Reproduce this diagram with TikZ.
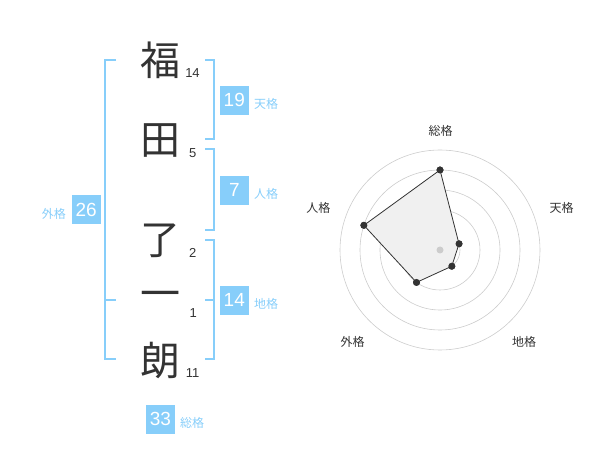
\documentclass[tikz,border=0pt]{standalone}
\usepackage{fontspec}
\setmainfont{Liberation Sans}
\newfontfamily\jp{Noto Sans CJK JP}
\definecolor{sky}{HTML}{87CEFA}
\definecolor{ink}{HTML}{333333}
\definecolor{ringc}{HTML}{CCCCCC}
\definecolor{polyfill}{HTML}{F0F0F0}
\begin{document}
\begin{tikzpicture}[x=1pt,y=-1pt,
  kanji/.style={font=\jp\fontsize{40}{40}\selectfont, text=ink, inner sep=0pt},
  strokes/.style={font=\fontsize{13}{13}\selectfont, text=ink, inner sep=0pt},
  valbox/.style={fill=sky, text=white, minimum width=29pt, minimum height=29pt, inner sep=0pt, font=\fontsize{19}{19}\selectfont},
  kaku/.style={font=\jp\fontsize{12}{12}\selectfont, text=sky, inner sep=0pt},
  bracket/.style={draw=sky, line width=2pt},
  ring/.style={draw=ringc, line width=0.6pt},
  dot/.style={circle, fill=ink, minimum size=7pt, inner sep=0pt},
  axislabel/.style={font=\jp\fontsize{12}{12}\selectfont, text=ink, inner sep=0pt}]
\useasboundingbox (0,0) rectangle (600,470);
% name characters
\node[kanji] (c1) at (160,60) {福};
\node[kanji] (c2) at (160,141) {田};
\node[kanji] (c3) at (160,241) {了};
\node[kanji] (c4) at (160,300) {一};
\node[kanji] (c5) at (160,361) {朗};
\node[strokes] (n1) at (192.5,72.7) {14};
\node[strokes] (n2) at (192.7,152.7) {5};
\node[strokes] (n3) at (192.7,252.7) {2};
\node[strokes] (n4) at (193.3,312.7) {1};
\node[strokes] (n5) at (192.5,372.7) {11};
% brackets
\draw[bracket] (205,60) -- (214,60) -- (214,139) -- (205,139);
\draw[bracket] (205,149) -- (214,149) -- (214,230) -- (205,230);
\draw[bracket] (205,240) -- (214,240) -- (214,359) -- (205,359);
\draw[bracket] (205,300) -- (214,300);
\draw[bracket] (116,60) -- (105,60) -- (105,359) -- (116,359);
\draw[bracket] (105,300) -- (116,300);
% values
\node[valbox] (ten) at (234.3,100.3) {19};
\node[kaku, anchor=west] (tenl) at (254,104) {天格};
\node[valbox] (jin) at (234.3,190.3) {7};
\node[kaku, anchor=west] (jinl) at (254,194) {人格};
\node[valbox] (chi) at (234.3,300.3) {14};
\node[kaku, anchor=west] (chil) at (254,304) {地格};
\node[valbox] (gai) at (86.2,210) {26};
\node[kaku, anchor=east] (gail) at (66,214) {外格};
\node[valbox] (sou) at (160.5,419.2) {33};
\node[kaku, anchor=west] (soul) at (180,423) {総格};
% radar chart
\coordinate (o) at (440,250);
\foreach \r in {20,40,60,80,100} \draw[ring] (o) circle[radius=\r];
\node[dot] (d1) at (440,170) {};
\node[dot] (d2) at (459,243.8) {};
\node[dot] (d3) at (451.8,266.2) {};
\node[dot] (d4) at (416.5,282.4) {};
\node[dot] (d5) at (363.9,225.3) {};
\fill[polyfill] (d1.center) -- (d2.center) -- (d3.center) -- (d4.center) -- (d5.center) -- cycle;
\fill[ringc] (o) circle[radius=3.5];
\draw[ink, line width=0.8pt] (d1.center) -- (d2.center) -- (d3.center) -- (d4.center) -- (d5.center) -- cycle;
\foreach \d in {d1,d2,d3,d4,d5} \fill[ink] (\d.center) circle[radius=3.5];
\node[axislabel] (l1) at (440.7,130.7) {総格};
\node[axislabel] (l2) at (561.7,208.3) {天格};
\node[axislabel] (l3) at (524,341.7) {地格};
\node[axislabel] (l4) at (352.7,341.7) {外格};
\node[axislabel] (l5) at (318.3,208.3) {人格};
\end{tikzpicture}
\end{document}
